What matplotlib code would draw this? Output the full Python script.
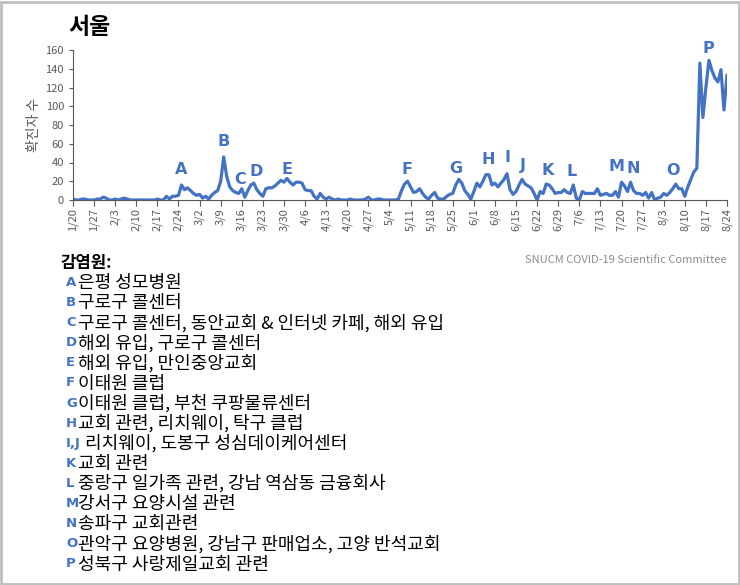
import numpy as np
import matplotlib
matplotlib.use("Agg")
import matplotlib.pyplot as plt
from matplotlib.patches import Rectangle

plt.rcParams['font.family'] = ['Noto Sans CJK KR', 'DejaVu Sans']

# daily confirmed cases in Seoul, 1/20 .. 8/24 (2020)
jan = [1, 0, 0, 1, 1, 0, 0, 0, 1, 1, 3, 2]
feb = [0, 0, 1, 0, 1, 2, 1, 0, 0, 0, 0, 0, 0, 0, 0, 0, 1, 0, 0,
       4, 1, 4, 4, 5, 16, 11, 13, 10, 7]
mar = [5, 6, 2, 4, 1, 5, 8, 10, 20, 46, 25, 14, 10, 8, 7, 12, 3, 10, 16, 18,
       11, 7, 4, 12, 13, 13, 15, 18, 21, 19, 23]
apr = [19, 16, 19, 19, 18, 11, 10, 10, 4, 1, 7, 3, 1, 3, 1,
       0, 1, 0, 0, 0, 1, 0, 0, 0, 0, 1, 3, 0, 0, 1]
may = [1, 0, 0, 0, 0, 0, 1, 10, 17, 20, 14, 8, 9, 12, 7, 3, 1, 5, 8, 2,
       1, 1, 4, 6, 7, 16, 22, 18, 10, 6, 1]
jun = [9, 18, 14, 20, 27, 27, 16, 18, 14, 18, 22, 28, 11, 6, 9, 16, 22, 17, 15, 13,
       7, 0, 9, 7, 17, 16, 12, 7, 8, 8]
jul = [11, 8, 7, 16, 2, 0, 9, 7, 7, 7, 7, 12, 5, 6, 7, 5, 5, 9, 3, 19,
       15, 9, 19, 10, 7, 7, 5, 8, 2, 8, 0]
aug = [2, 3, 7, 5, 8, 12, 17, 12, 12, 4, 14, 22, 30, 34, 146, 88, 120, 149,
       138, 130, 126, 139, 96, 133]
cases = jan + feb + mar + apr + may + jun + jul + aug

tick_labels = ['1/20', '1/27', '2/3', '2/10', '2/17', '2/24', '3/2', '3/9', '3/16',
               '3/23', '3/30', '4/6', '4/13', '4/20', '4/27', '5/4', '5/11', '5/18',
               '5/25', '6/1', '6/8', '6/15', '6/22', '6/29', '7/6', '7/13', '7/20',
               '7/27', '8/3', '8/10', '8/17', '8/24']

# cluster markers: letter, day index (from 1/20), height
mark_letters = list('ABCDEFGHIJKLMNOP')
mark_days = [36, 50, 55.4, 60.7, 71, 110.8, 127, 137.7, 144.3, 149.3, 157.6, 165.6,
             180.5, 185.8, 199, 210.7]
mark_vals = [32, 62, 22, 30, 32, 32, 34, 43, 45, 37, 31, 30, 36, 34, 31, 162]

legend_keys = ['A', 'B', 'C', 'D', 'E', 'F', 'G', 'H', 'I,J', 'K', 'L', 'M', 'N', 'O', 'P']
legend_texts = ['은평 성모병원',
                '구로구 콜센터',
                '구로구 콜센터, 동안교회 & 인터넷 카페, 해외 유입',
                '해외 유입, 구로구 콜센터',
                '해외 유입, 만인중앙교회',
                '이태원 클럽',
                '이태원 클럽, 부천 쿠팡물류센터',
                '교회 관련, 리치웨이, 탁구 클럽',
                '리치웨이, 도봉구 성심데이케어센터',
                '교회 관련',
                '중랑구 일가족 관련, 강남 역삼동 금융회사',
                '강서구 요양시설 관련',
                '송파구 교회관련',
                '관악구 요양병원, 강남구 판매업소, 고양 반석교회',
                '성북구 사랑제일교회 관련']

blue = '#4472C4'
grey = '#595959'
W, H = 740, 585

fig = plt.figure(figsize=(7.4, 5.85), dpi=100)
ax = fig.add_axes([73 / W, 1 - 200 / H, (727 - 73) / W, 150 / H])

days = np.arange(len(cases))
ax.plot(days, cases, color=blue, lw=2.3, solid_joinstyle='round')
for let, d, v in zip(mark_letters, mark_days, mark_vals):
    ax.text(d, v, let, color=blue, fontsize=11.5, fontweight='bold',
            ha='center', va='center', family=['DejaVu Sans'])

ax.set_xlim(0, 217)
ax.set_ylim(0, 160)
ax.set_xticks(np.arange(0, 218, 7))
ax.set_xticklabels(tick_labels, rotation=90, fontsize=8, color=grey)
ax.set_yticks(np.arange(0, 161, 20))
ax.tick_params(axis='y', labelsize=8, labelcolor=grey, length=3, color=grey)
ax.tick_params(axis='x', length=4, color=grey, pad=2)
for s in ['top', 'right']:
    ax.spines[s].set_visible(False)
for s in ['left', 'bottom']:
    ax.spines[s].set_color(grey)
ax.set_ylabel('확진자 수', fontsize=10, color=grey, labelpad=3)

fig.text(68 / W, 1 - 27 / H, '서울', fontsize=16.5, fontweight='bold', va='center')
fig.text(727 / W, 1 - 260 / H, 'SNUCM COVID-19 Scientific Committee',
         fontsize=8, color='#8c8c8c', ha='right', va='center')
fig.text(60 / W, 1 - 263 / H, '감염원:', fontsize=12, fontweight='bold', va='center')

for i, (k, t) in enumerate(zip(legend_keys, legend_texts)):
    base = 283 + i * 20.1 + 5
    fig.text(66 / W, 1 - (base - 2) / H, k, fontsize=9.5, color=blue, fontweight='bold',
             va='baseline', family=['DejaVu Sans'])
    x_txt = 85 if k == 'I,J' else 78
    fig.text(x_txt / W, 1 - base / H, t, fontsize=13, va='baseline')

fig.patches.append(Rectangle((0.002, 0.002), 0.996, 0.995, transform=fig.transFigure,
                             fill=False, edgecolor='#bfbfbf', lw=2))

fig.savefig('out.png', dpi=100)
